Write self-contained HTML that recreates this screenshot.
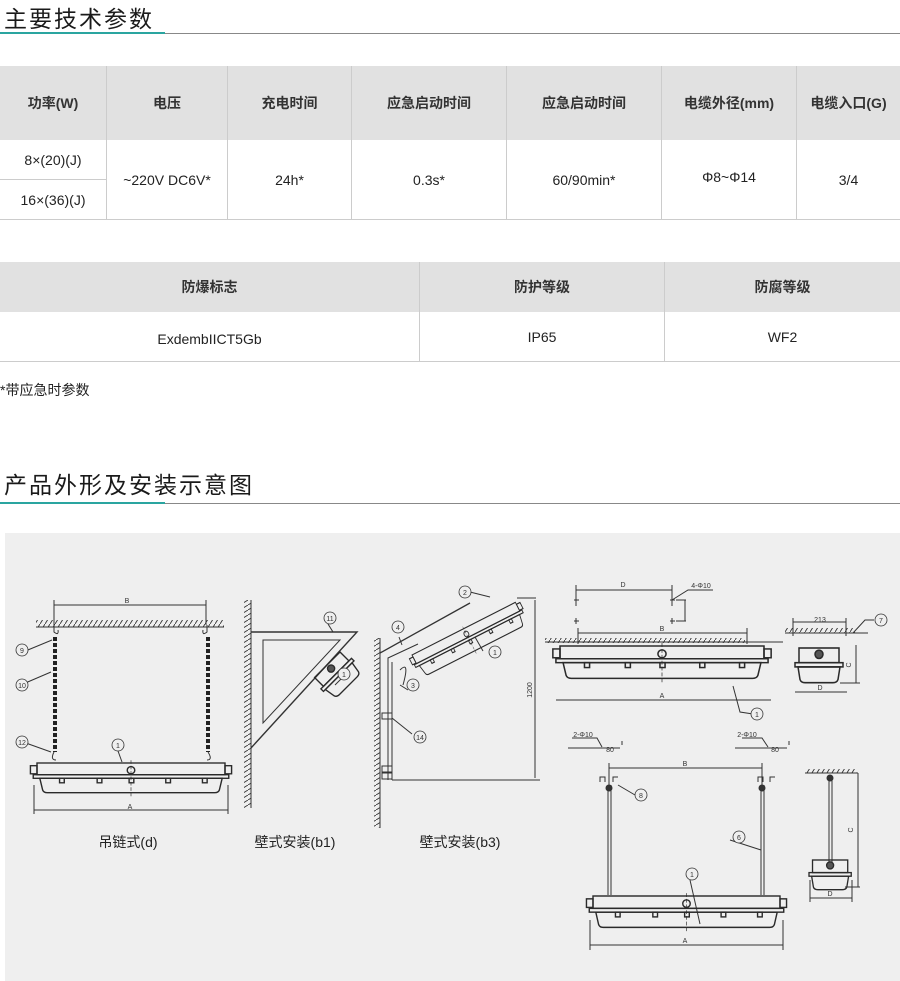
<!DOCTYPE html>
<html><head><meta charset="utf-8"><style>
body{margin:0;width:900px;height:981px;background:#fff;position:relative;overflow:hidden;font-family:"Liberation Sans","Noto Sans CJK SC",sans-serif;color:#222}
.a{position:absolute}
.t{position:absolute;font-size:23px;letter-spacing:2px;color:#1a1a1a}
.c{position:absolute;display:flex;align-items:center;justify-content:center;font-size:14px;box-sizing:border-box}
.h{background:#e1e1e1;font-weight:bold;color:#333}
</style></head><body>
<div class="t" style="left:4px;top:0px">主要技术参数</div>
<div class="a" style="left:0;top:33px;width:900px;height:1px;background:#888"></div>
<div class="a" style="left:0;top:32px;width:165px;height:2px;background:#2aa5a0"></div>

<div class="a" style="left:0;top:66px;width:900px;height:154px;background:#ccc"></div>
<div class="c h" style="left:0;top:66px;width:106px;height:74px">功率(W)</div>
<div class="c h" style="left:107px;top:66px;width:120px;height:74px">电压</div>
<div class="c h" style="left:228px;top:66px;width:123px;height:74px">充电时间</div>
<div class="c h" style="left:352px;top:66px;width:154px;height:74px">应急启动时间</div>
<div class="c h" style="left:507px;top:66px;width:154px;height:74px">应急启动时间</div>
<div class="c h" style="left:662px;top:66px;width:134px;height:74px">电缆外径(mm)</div>
<div class="c h" style="left:797px;top:66px;width:103px;height:74px">电缆入口(G)</div>
<div class="c" style="background:#fff;left:0;top:140px;width:106px;height:39px">8×(20)(J)</div>
<div class="c" style="background:#fff;left:0;top:180px;width:106px;height:39px">16×(36)(J)</div>
<div class="c" style="background:#fff;left:107px;top:140px;width:120px;height:79px">~220V DC6V*</div>
<div class="c" style="background:#fff;left:228px;top:140px;width:123px;height:79px">24h*</div>
<div class="c" style="background:#fff;left:352px;top:140px;width:154px;height:79px">0.3s*</div>
<div class="c" style="background:#fff;left:507px;top:140px;width:154px;height:79px">60/90min*</div>
<div class="c" style="background:#fff;left:662px;top:140px;width:134px;height:79px;padding-bottom:6px">Φ8~Φ14</div>
<div class="c" style="background:#fff;left:797px;top:140px;width:103px;height:79px">3/4</div>

<div class="a" style="left:0;top:262px;width:900px;height:100px;background:#ccc"></div>
<div class="c h" style="left:0;top:262px;width:419px;height:50px">防爆标志</div>
<div class="c h" style="left:420px;top:262px;width:244px;height:50px">防护等级</div>
<div class="c h" style="left:665px;top:262px;width:235px;height:50px">防腐等级</div>
<div class="c" style="background:#fff;left:0;top:312px;width:419px;height:49px;padding-top:4px">ExdembIICT5Gb</div>
<div class="c" style="background:#fff;left:420px;top:312px;width:244px;height:49px">IP65</div>
<div class="c" style="background:#fff;left:665px;top:312px;width:235px;height:49px">WF2</div>
<div class="a" style="left:0;top:380px;font-size:14px">*带应急时参数</div>

<div class="t" style="left:4px;top:466px">产品外形及安装示意图</div>
<div class="a" style="left:0;top:503px;width:900px;height:1px;background:#888"></div>
<div class="a" style="left:0;top:502px;width:165px;height:2px;background:#2aa5a0"></div>

<svg class="a" style="left:0;top:0" width="900" height="981" viewBox="0 0 900 981" font-family="Liberation Sans, sans-serif">
<defs>
<pattern id="hx" width="5" height="8" patternUnits="userSpaceOnUse"><line x1="0" y1="8" x2="5" y2="0" stroke="#333" stroke-width="0.9"/></pattern>
<pattern id="hy" width="8" height="5" patternUnits="userSpaceOnUse"><line x1="0" y1="5" x2="8" y2="0" stroke="#333" stroke-width="0.9"/></pattern>
<g id="lamp" fill="none" stroke="#2a2a2a" stroke-width="1.5">
<rect x="-7" y="3" width="7" height="9"/><rect x="200" y="3" width="7" height="9"/>
<rect x="0" y="0" width="200" height="13"/>
<rect x="-4" y="13" width="208" height="4"/>
<path d="M3 17 L197 17 L194 30 Q193 33 189 33 L11 33 Q7 33 6 30 Z"/>
<rect x="24" y="17" width="5" height="5"/><rect x="64" y="17" width="5" height="5"/><rect x="98" y="17" width="5" height="5"/><rect x="137" y="17" width="5" height="5"/><rect x="176" y="17" width="5" height="5"/>
<circle cx="100" cy="8" r="4"/>
<line x1="100" y1="-3" x2="100" y2="38" stroke-dasharray="4 2" stroke-width="0.7"/>
</g>
<g id="endv" fill="none" stroke="#2a2a2a" stroke-width="1.5">
<rect x="4" y="0" width="40" height="14"/><rect x="0" y="14" width="48" height="4"/>
<path d="M3 18 L45 18 L43 30 Q42 33 38 33 L10 33 Q6 33 5 30 Z"/>
<circle cx="24" cy="6" r="4" fill="#555"/>
</g>
</defs>
<rect x="5" y="533" width="895" height="448" fill="#efefef"/>
<g stroke="#333" fill="none" stroke-width="1">
<rect x="36" y="620" width="188" height="7" fill="url(#hx)" stroke="none"/>
<line x1="36" y1="627" x2="224" y2="627"/>
<line x1="54" y1="605" x2="206" y2="605"/>
<line x1="54" y1="600" x2="54" y2="625"/><line x1="206" y1="600" x2="206" y2="625"/>
<path d="M54 625 L54 632 Q59 636 58 630 M207 625 L207 632 Q202 636 203 630"/>
<line x1="55" y1="637" x2="55" y2="752" stroke-width="4" stroke-dasharray="4 2" stroke="#222"/>
<line x1="208" y1="637" x2="208" y2="752" stroke-width="4" stroke-dasharray="4 2" stroke="#222"/>
<path d="M54 752 Q50 760 56 760 M208 752 Q213 760 207 760"/>
<use href="#lamp" transform="translate(37,763) scale(0.94,0.9)"/>
<line x1="34" y1="810" x2="228" y2="810"/><line x1="34" y1="785" x2="34" y2="814"/><line x1="228" y1="785" x2="228" y2="814"/>
<line x1="23" y1="652" x2="52" y2="640"/><line x1="23" y1="684" x2="51" y2="672"/><line x1="23" y1="742" x2="51" y2="752"/><line x1="118" y1="751" x2="122" y2="762"/>
<rect x="244" y="600" width="7" height="208" fill="url(#hy)" stroke="none"/>
<line x1="251" y1="600" x2="251" y2="808"/>
<path d="M251 632 L357 632 L251 748" stroke-width="1.4"/>
<path d="M263 640 L340 640 L263 723 Z"/>
<line x1="333" y1="632" x2="328" y2="624"/>
<g transform="translate(312,680) rotate(-45)"><use href="#endv" transform="scale(0.9)"/></g>
<line x1="335" y1="685" x2="342" y2="678"/>
<rect x="374" y="638" width="6" height="190" fill="url(#hy)" stroke="none"/>
<line x1="380" y1="638" x2="380" y2="828"/>
<line x1="380" y1="653" x2="470" y2="603" stroke-width="1.3"/>
<path d="M388 780 L388 658 L418 644"/>
<line x1="392" y1="780" x2="392" y2="662"/>
<rect x="382" y="713" width="10" height="6"/><rect x="382" y="766" width="10" height="6"/><rect x="382" y="773" width="10" height="6"/>
<line x1="392" y1="780" x2="540" y2="780"/>
<g transform="translate(412,655) rotate(-27) scale(0.58,0.75)"><use href="#lamp"/></g>
<line x1="517" y1="598" x2="536" y2="598"/><line x1="535" y1="600" x2="535" y2="778"/>
<path d="M400 670 Q410 660 403 685 M400 685 L408 690"/>
<line x1="392" y1="718" x2="412" y2="734"/><line x1="399" y1="637" x2="402" y2="645"/><line x1="470" y1="592" x2="490" y2="597"/><line x1="483" y1="651" x2="475" y2="637"/>
<line x1="576" y1="590" x2="672" y2="590"/>
<line x1="576" y1="585" x2="576" y2="606"/><line x1="672" y1="585" x2="672" y2="606"/>
<path d="M574 600 h5 M576 597 v6 M574 621 h5 M576 618 v6 M670 600 h5 M672 597 v6 M670 621 h5 M672 618 v6"/>
<path d="M672 600 L688 590 L713 590 M676 600 h10 M676 621 h10 M685 600 v21"/>
<rect x="545" y="638" width="200" height="5" fill="url(#hx)" stroke="none"/>
<line x1="545" y1="642" x2="783" y2="642"/>
<line x1="578" y1="633" x2="747" y2="633"/><line x1="578" y1="628" x2="578" y2="644"/><line x1="747" y1="628" x2="747" y2="644"/>
<use href="#lamp" transform="translate(560,646) scale(1.02,0.98)"/>
<line x1="556" y1="700" x2="771" y2="700"/>
<path d="M733 686 L740 712 L753 714"/>
<rect x="785" y="628" width="70" height="5" fill="url(#hx)" stroke="none"/>
<line x1="785" y1="633" x2="868" y2="633"/>
<line x1="793" y1="622" x2="846" y2="622"/><line x1="793" y1="618" x2="793" y2="636"/><line x1="846" y1="618" x2="846" y2="636"/>
<path d="M853 633 L865 620 L874 620"/>
<use href="#endv" transform="translate(795,648) scale(1,1.05)"/>
<line x1="795" y1="692" x2="847" y2="692"/>
<line x1="856" y1="645" x2="856" y2="683"/><line x1="840" y1="683" x2="860" y2="683"/>
<path d="M572 738 L597 738 L602 747 M568 748 L620 748 M622 745 v-4 M742 738 L762 738 L768 747 M735 748 L787 748 M789 745 v-4"/>
<line x1="609" y1="768" x2="762" y2="768"/><line x1="609" y1="763" x2="609" y2="790"/><line x1="762" y1="763" x2="762" y2="790"/>
<path d="M600 782 v-5 h5 v5 M613 782 v-5 h5 M758 782 v-5 h5 v5 M770 782 v-5 h5"/>
<line x1="608" y1="785" x2="608" y2="895"/><line x1="611" y1="785" x2="611" y2="895"/>
<line x1="761" y1="785" x2="761" y2="895"/><line x1="764" y1="785" x2="764" y2="895"/>
<circle cx="609" cy="788" r="3" fill="#333"/><circle cx="762" cy="788" r="3" fill="#333"/>
<path d="M618 785 L635 795 M730 840 L761 850 M690 880 L700 924"/>
<use href="#lamp" transform="translate(593,896) scale(0.935,0.95)"/>
<line x1="590" y1="945" x2="783" y2="945"/><line x1="590" y1="920" x2="590" y2="950"/><line x1="783" y1="920" x2="783" y2="950"/>
<rect x="805" y="769" width="52" height="4" fill="url(#hx)" stroke="none"/>
<line x1="805" y1="773" x2="858" y2="773"/>
<line x1="829" y1="778" x2="829" y2="862"/><line x1="832" y1="778" x2="832" y2="862"/>
<circle cx="830" cy="778" r="3" fill="#333"/>
<use href="#endv" transform="translate(809,860) scale(0.88,0.9)"/>
<line x1="858" y1="773" x2="858" y2="887"/><line x1="845" y1="887" x2="860" y2="887"/>
<line x1="810" y1="898" x2="852" y2="898"/>
<line x1="810" y1="880" x2="810" y2="902"/><line x1="852" y1="880" x2="852" y2="902"/>
</g>
<g fill="#efefef" stroke="#333" stroke-width="0.8">
<circle cx="22" cy="650" r="6"/><circle cx="22" cy="685" r="6"/><circle cx="22" cy="742" r="6"/><circle cx="118" cy="745" r="6"/>
<circle cx="330" cy="618" r="6"/><circle cx="344" cy="674" r="6"/>
<circle cx="398" cy="627" r="6"/><circle cx="465" cy="592" r="6"/><circle cx="495" cy="652" r="6"/><circle cx="413" cy="685" r="6"/><circle cx="420" cy="737" r="6"/>
<circle cx="757" cy="714" r="6"/><circle cx="881" cy="620" r="6"/>
<circle cx="641" cy="795" r="6"/><circle cx="739" cy="837" r="6"/><circle cx="692" cy="874" r="6"/>
</g>
<g font-size="7" fill="#333" text-anchor="middle">
<text x="22" y="653">9</text><text x="22" y="688">10</text><text x="22" y="745">12</text><text x="118" y="748">1</text>
<text x="330" y="621">11</text><text x="344" y="677">1</text>
<text x="398" y="630">4</text><text x="465" y="595">2</text><text x="495" y="655">1</text><text x="413" y="688">3</text><text x="420" y="740">14</text>
<text x="757" y="717">1</text><text x="881" y="623">7</text>
<text x="641" y="798">8</text><text x="739" y="840">6</text><text x="692" y="877">1</text>
<text x="127" y="603">B</text><text x="130" y="809">A</text>
<text x="623" y="587">D</text><text x="701" y="588">4-Φ10</text><text x="662" y="631">B</text><text x="662" y="698">A</text>
<text x="820" y="622">213</text><text x="820" y="690">D</text>
<text x="583" y="737">2-Φ10</text><text x="610" y="752">80</text><text x="747" y="737">2-Φ10</text><text x="775" y="752">80</text>
<text x="685" y="766">B</text><text x="685" y="943">A</text><text x="830" y="896">D</text>
<text transform="translate(532,690) rotate(-90)">1200</text>
<text transform="translate(851,665) rotate(-90)">C</text>
<text transform="translate(853,830) rotate(-90)">C</text>
</g>
<g font-size="14" fill="#222" text-anchor="middle" font-family="Liberation Sans, Noto Sans CJK SC, sans-serif">
<text x="128" y="847">吊链式(d)</text><text x="295" y="847">壁式安装(b1)</text><text x="460" y="847">壁式安装(b3)</text>
</g>
</svg>
</body></html>
